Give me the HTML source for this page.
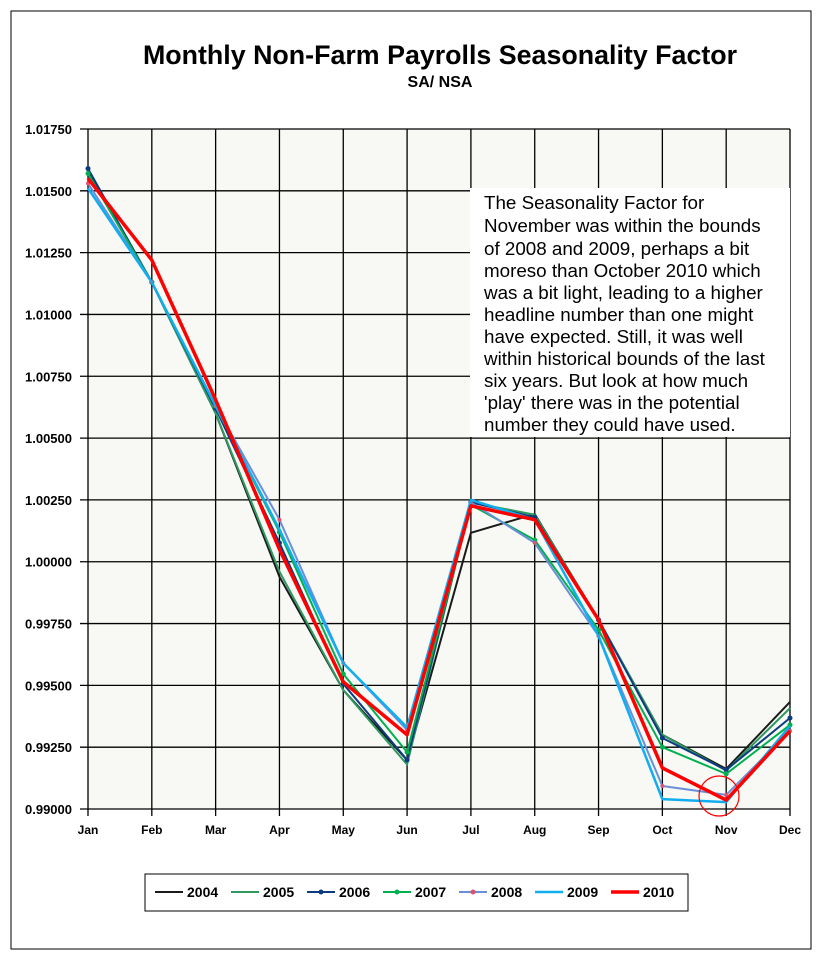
<!DOCTYPE html>
<html><head><meta charset="utf-8"><style>
body{margin:0;background:#fff;font-family:"Liberation Sans",sans-serif}
svg text{font-family:"Liberation Sans",sans-serif}
</style></head><body>
<svg id="c" width="818" height="957">
<rect x="11" y="11" width="800" height="938" fill="#fff" stroke="#000" stroke-width="1"/>
<text x="440" y="64" text-anchor="middle" font-size="26.8" font-weight="bold">Monthly Non-Farm Payrolls Seasonality Factor</text>
<text x="440" y="87" text-anchor="middle" font-size="16" font-weight="bold">SA/ NSA</text>
<rect x="88" y="129" width="702" height="680" fill="#f8f8f4"/>
<g id="grid"></g><g id="series"></g><g id="labels"></g>
<rect x="470" y="188" width="320" height="249" fill="#fff"/>
<text font-size="18.8">
<tspan x="484" y="209">The Seasonality Factor for</tspan>
<tspan x="484" y="232">November was within the bounds</tspan>
<tspan x="484" y="255">of 2008 and 2009, perhaps a bit</tspan>
<tspan x="484" y="277">moreso than October 2010 which</tspan>
<tspan x="484" y="299">was a bit light, leading to a higher</tspan>
<tspan x="484" y="321">headline number than one might</tspan>
<tspan x="484" y="343">have expected.  Still, it was well</tspan>
<tspan x="484" y="365">within historical bounds of the last</tspan>
<tspan x="484" y="387">six years.  But look at how much</tspan>
<tspan x="484" y="409">'play' there was in the potential</tspan>
<tspan x="484" y="431">number they could have used.</tspan>
</text>
<circle cx="719" cy="796" r="20" fill="none" stroke="#f00" stroke-width="1.2"/>
<rect x="145" y="874" width="543" height="37" fill="#fff" stroke="#000"/>
<g id="legend"></g>
</svg>
<script>
const months=["Jan","Feb","Mar","Apr","May","Jun","Jul","Aug","Sep","Oct","Nov","Dec"];
const yTicks=[0.99,0.9925,0.995,0.9975,1.0,1.0025,1.005,1.0075,1.01,1.0125,1.015,1.0175];
const years=["2004","2005","2006","2007","2008","2009","2010"];
const s2004=[1.01585,1.0113,1.0060,0.99939,0.99481,0.99198,1.00117,1.00193,0.99765,0.9930,0.99162,0.99433];
const s2005=[1.0157,1.0113,1.0060,0.9996,0.99481,0.9918,1.0024,1.0019,0.99765,0.9930,0.99155,0.99408];
const s2006=[1.0159,1.0113,1.0062,1.00076,0.99506,0.99198,1.0024,1.0018,0.99765,0.99287,0.99158,0.99368];
const s2007=[1.0157,1.0113,1.0063,1.0012,0.99546,0.9923,1.0023,1.00088,0.99724,0.9925,0.99142,0.9934];
const s2008=[1.0153,1.0113,1.0063,1.0017,0.9959,0.9932,1.0024,1.00076,0.9970,0.99093,0.99057,0.99316];
const s2009=[1.0151,1.0113,1.0063,1.0013,0.9959,0.9933,1.0025,1.0017,0.9970,0.9904,0.99028,0.99336];
const s2010=[1.0155,1.0122,1.00655,1.0005,0.99514,0.9930,1.00226,1.0017,0.99765,0.99166,0.99036,0.99316];
const allSeries=[s2004,s2005,s2006,s2007,s2008,s2009,s2010];
const colors=["#1a1a1a","#2e9a60","#0d3b80","#00b050","#6a8fd8","#10aef0","#ff0000"];
const widths=[2,2,2,2,2,2.5,3.5];
const dots=[null,null,"#0d3b80","#00b050","#e05070",null,null];
const NS="http://www.w3.org/2000/svg";
const x=i=>88+i*(702/11);
const y=v=>809-(v-0.99)/0.0275*680;
function mk(t,a,p){const e=document.createElementNS(NS,t);for(const k in a)e.setAttribute(k,a[k]);p.appendChild(e);return e;}
const G=document.getElementById("grid"),L=document.getElementById("labels"),S=document.getElementById("series"),LG=document.getElementById("legend");
yTicks.forEach(v=>{
 const l=mk("line",{x1:80,x2:790,y1:y(v),y2:y(v),stroke:"#000","stroke-width":1.3},G);
 
 
 const t=mk("text",{x:72,y:y(v)+5,"text-anchor":"end","font-size":13,"font-weight":"bold"},L);
 t.textContent=v.toFixed(5);
 
 
});
months.forEach((m,i)=>{
 const l=mk("line",{x1:x(i),x2:x(i),y1:129,y2:816,stroke:"#000","stroke-width":1.3},G);
 
 
 const t=mk("text",{x:x(i),y:834,"text-anchor":"middle","font-size":12,"font-weight":"bold"},L);
 t.textContent=m;
 
 
});
allSeries.forEach((s,k)=>{
 const p=mk("polyline",{points:s.map((v,i)=>x(i)+","+y(v)).join(" "),fill:"none",stroke:colors[k],"stroke-width":widths[k],"stroke-linejoin":"round"},S);
 
 
 if(dots[k]) s.forEach((v,i)=>{
  const c=mk("circle",{cx:x(i),cy:y(v),r:k==4?2:2.5,fill:dots[k]},S);
  
  
 });
});
years.forEach((yr,k)=>{
 const lx=155+k*76;
 const l=mk("line",{x1:lx,x2:lx+28,y1:892,y2:892,stroke:colors[k],"stroke-width":widths[k]},LG);
 
 
 if(dots[k]){const c=mk("circle",{cx:lx+14,cy:892,r:2.5,fill:dots[k]},LG);}
 const t=mk("text",{x:lx+32,y:897,"font-size":14,"font-weight":"bold"},LG);
 t.textContent=yr;
 
 
});
</script>
</body></html>
